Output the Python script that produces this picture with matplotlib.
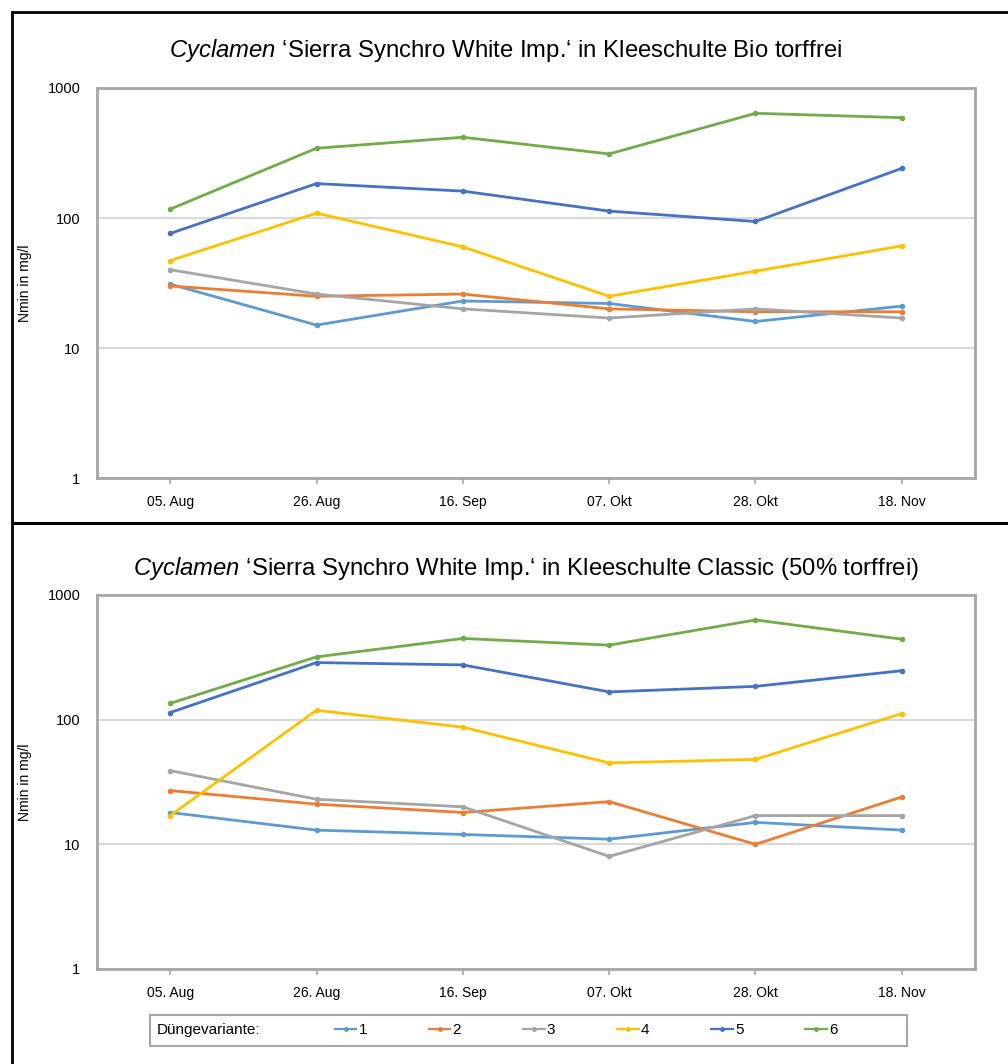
import matplotlib.pyplot as plt
from matplotlib.lines import Line2D
from matplotlib.patches import Rectangle

plt.rcParams['font.family'] = ['Liberation Sans', 'DejaVu Sans']
plt.rcParams['mathtext.fontset'] = 'custom'
plt.rcParams['mathtext.it'] = 'Liberation Sans:italic'
plt.rcParams['mathtext.rm'] = 'Liberation Sans'

# dates (x categories)
dates = ['05. Aug', '26. Aug', '16. Sep', '07. Okt', '28. Okt', '18. Nov']
variants = ['1', '2', '3', '4', '5', '6']
colors = ['#5B9BD5', '#ED7D31', '#A5A5A5', '#FFC000', '#4472C4', '#70AD47']

# Kleeschulte Bio torffrei
bio_1 = [31, 15, 23, 22, 16, 21]
bio_2 = [30, 25, 26, 20, 19, 19]
bio_3 = [40, 26, 20, 17, 20, 17]
bio_4 = [47, 109, 60, 25, 39, 61]
bio_5 = [76, 184, 161, 113, 94, 241]
bio_6 = [117, 344, 418, 311, 639, 591]

# Kleeschulte Classic (50% torffrei)
cls_1 = [18, 13, 12, 11, 15, 13]
cls_2 = [27, 21, 18, 22, 10, 24]
cls_3 = [39, 23, 20, 8, 17, 17]
cls_4 = [17, 119, 87, 45, 48, 112]
cls_5 = [114, 287, 275, 167, 185, 247]
cls_6 = [135, 319, 448, 396, 631, 442]

panels = [
    ('$\\it{Cyclamen}$ \u2018Sierra Synchro White Imp.\u2018 in Kleeschulte Bio torffrei',
     [bio_1, bio_2, bio_3, bio_4, bio_5, bio_6]),
    ('$\\it{Cyclamen}$ \u2018Sierra Synchro White Imp.\u2018 in Kleeschulte Classic (50% torffrei)',
     [cls_1, cls_2, cls_3, cls_4, cls_5, cls_6]),
]

W, H = 1008, 1064
fig = plt.figure(figsize=(W / 100, H / 100), dpi=100)

# axes boxes in pixels: (left, top, right, bottom)
boxes = [(97, 88, 975, 478), (97, 595, 975, 969)]
title_pos = [(506, 50), (526, 568)]

for (title, series), (l, t, r, b), (tx, ty) in zip(panels, boxes, title_pos):
    ax = fig.add_axes([l / W, 1 - b / H, (r - l) / W, (b - t) / H])
    x = range(len(dates))
    for vals, c in zip(series, colors):
        ax.plot(x, vals, color=c, lw=2, marker='o', ms=3)
    ax.set_yscale('log')
    ax.set_ylim(1, 1000)
    ax.set_xlim(-0.5, len(dates) - 0.5)
    ax.set_yticks([1, 10, 100, 1000])
    ax.set_yticklabels(['1', '10', '100', '1000'])
    ax.minorticks_off()
    ax.set_xticks(list(x))
    ax.set_xticklabels(dates)
    ax.tick_params(axis='y', length=0, pad=12, labelsize=10.5)
    ax.tick_params(axis='x', length=4, width=1.2, color='#A6A6A6', pad=8, labelsize=10)
    ax.grid(axis='y', color='#D9D9D9', lw=1.5)
    ax.set_axisbelow(True)
    for s in ax.spines.values():
        s.set_color('#A6A6A6')
        s.set_linewidth(2)
    ax.set_ylabel('Nmin in mg/l', fontsize=10)
    ax.yaxis.set_label_coords(-(l - 32) / (r - l), 0.5)
    fig.text(tx / W, 1 - ty / H, title, ha='center', va='center', fontsize=17.2)

# outer panel frames
fig.add_artist(Rectangle((12 / W, 1 - 523 / H), 1.0, (523 - 12) / H,
                         transform=fig.transFigure, fill=False, ec='black', lw=2))
fig.add_artist(Rectangle((12 / W, -0.01), 1.0, 1 - 523 / H + 0.01,
                         transform=fig.transFigure, fill=False, ec='black', lw=2))

# legend
fig.add_artist(Rectangle((150 / W, 1 - 1046 / H), 757 / W, 31 / H,
                         transform=fig.transFigure, fill=False, ec='#A6A6A6', lw=1.5))
fig.text(157 / W, 1 - 1030 / H, 'Düngevariante:', ha='left', va='center', fontsize=11)
handles = [Line2D([], [], color=c, lw=1.6, marker='o', ms=2.5) for c in colors]
fig.legend(handles, variants, loc='center left', bbox_to_anchor=(335 / W, 1 - 1030 / H),
           ncol=6, frameon=False, fontsize=11, handlelength=1.4, handletextpad=0.15,
           columnspacing=4.05, borderpad=0, borderaxespad=0)

fig.savefig('out.png', dpi=100)
